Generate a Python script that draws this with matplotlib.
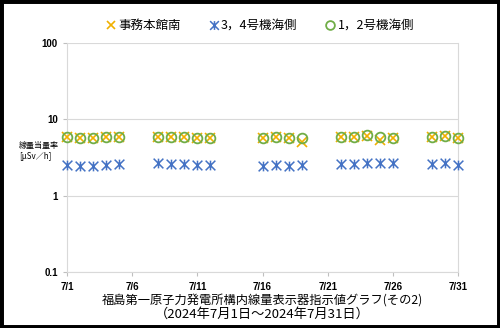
import matplotlib
matplotlib.use('Agg')
import matplotlib.pyplot as plt
from matplotlib.path import Path
from matplotlib.patches import Rectangle
from matplotlib.ticker import FixedLocator, NullLocator

plt.rcParams['font.family'] = ['Noto Sans CJK JP', 'DejaVu Sans']

# 日付 (7月の日)
dias = [1, 2, 3, 4, 5, 8, 9, 10, 11, 12, 16, 17, 18, 19, 22, 23, 24, 25, 26, 29, 30, 31]

honkan = [5.78, 5.70, 5.70, 5.78, 5.86, 5.92, 5.85, 5.80, 5.72, 5.64, 5.64, 5.81, 5.64, 5.09,
          5.92, 5.92, 6.10, 5.36, 5.74, 5.92, 6.00, 5.74]
kaigan34 = [2.52, 2.47, 2.42, 2.52, 2.60, 2.65, 2.57, 2.57, 2.50, 2.50, 2.47, 2.52, 2.47, 2.52,
            2.60, 2.60, 2.65, 2.65, 2.70, 2.57, 2.70, 2.52]
kaigan12 = [5.78, 5.70, 5.70, 5.78, 5.86, 5.92, 5.85, 5.80, 5.72, 5.64, 5.64, 5.81, 5.64, 5.74,
            5.92, 5.92, 6.20, 5.92, 5.74, 5.92, 6.04, 5.74]

series_names = ['事務本館南', '3，4号機海側', '1，2号機海側']
xticks = [1, 6, 11, 16, 21, 26, 31]
xlabels = ['7/1', '7/6', '7/11', '7/16', '7/21', '7/26', '7/31']
yticks = [0.1, 1, 10, 100]
ylabels = ['0.1', '1', '10', '100']

# Excelの「*」マーカー（X＋縦線）
star = Path([(0, -1), (0, 1), (-1, -1), (1, 1), (-1, 1), (1, -1)],
            [Path.MOVETO, Path.LINETO, Path.MOVETO, Path.LINETO, Path.MOVETO, Path.LINETO])

fig = plt.figure(figsize=(5, 3.28), dpi=100)
ax = fig.add_axes([0.134, 0.171, 0.782, 0.698])

ax.plot(dias, honkan, linestyle='none', marker='x', markersize=6.5,
        markeredgecolor='#F0B000', markeredgewidth=1.2, label=series_names[0], zorder=3,
        clip_on=False)
ax.plot(dias, kaigan34, linestyle='none', marker=star, markersize=7,
        markeredgecolor='#4472C4', markeredgewidth=1.1, label=series_names[1], zorder=3,
        clip_on=False)
ax.plot(dias, kaigan12, linestyle='none', marker='o', markersize=7, markerfacecolor='none',
        markeredgecolor='#70AD47', markeredgewidth=1.3, label=series_names[2], zorder=4,
        clip_on=False)

ax.set_yscale('log')
ax.set_ylim(0.1, 100)
ax.set_xlim(1, 31)
ax.yaxis.set_major_locator(FixedLocator(yticks))
ax.yaxis.set_minor_locator(NullLocator())
ax.set_yticklabels(ylabels)
ax.set_xticks(xticks)
ax.set_xticklabels(xlabels)
ax.grid(axis='y', color='#D9D9D9', linewidth=0.8)
ax.spines['top'].set_visible(False)
for s in ['left', 'bottom', 'right']:
    ax.spines[s].set_color('#D9D9D9')
ax.tick_params(axis='both', colors='#BFBFBF', length=3, labelcolor='black', labelsize=7)
for lab in ax.get_xticklabels() + ax.get_yticklabels():
    lab.set_fontweight('bold')
    lab.set_family(['Liberation Sans', 'DejaVu Sans'])
ax.tick_params(axis='x', pad=4)

fig.legend(loc='center', ncol=3, bbox_to_anchor=(0.52, 0.922), frameon=False, fontsize=9,
           handlelength=0.8, handletextpad=0.2, columnspacing=2.2, markerscale=0.9)

fig.text(0.038, 0.541, '線量当量率\n[μSv／h]', fontsize=5.8, ha='left', va='center',
         linespacing=1.3)
fig.text(0.525, 0.086, '福島第一原子力発電所構内線量表示器指示値グラフ(その2)', fontsize=8.8,
         ha='center', va='center')
fig.text(0.525, 0.042, '（2024年7月1日～2024年7月31日）', fontsize=9.5,
         ha='center', va='center')

fig.patches.append(Rectangle((0, 0), 1, 1, transform=fig.transFigure, fill=False,
                             edgecolor='black', linewidth=5, zorder=10))

fig.savefig('out.png', dpi=100)
